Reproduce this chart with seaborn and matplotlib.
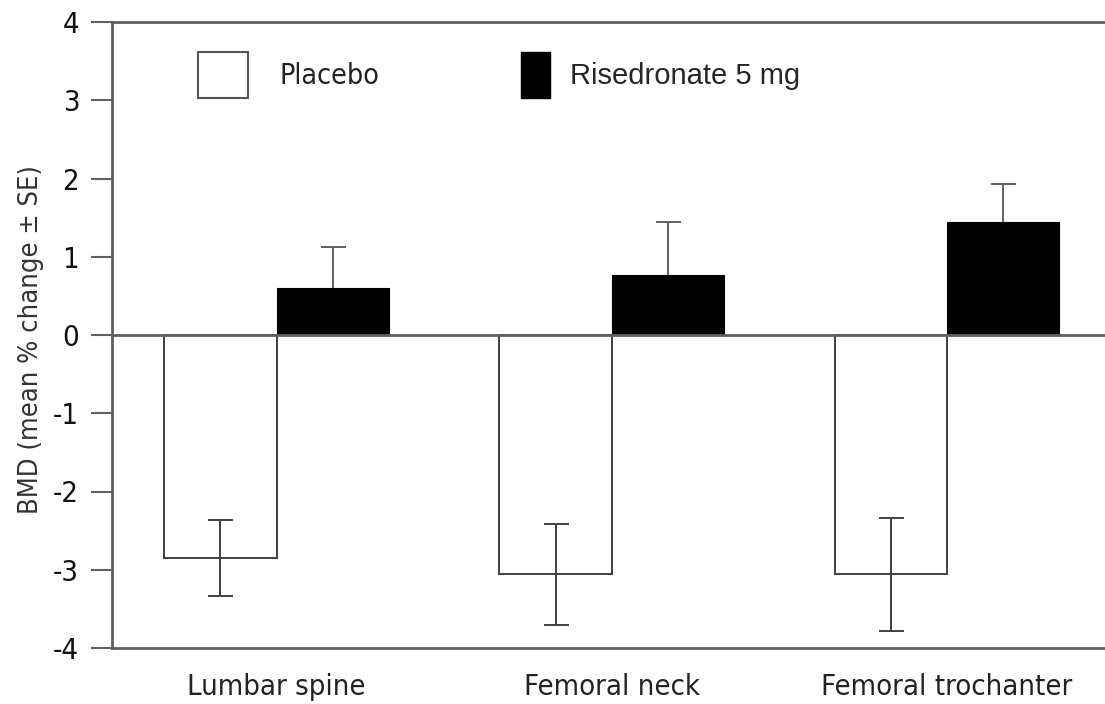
import matplotlib
matplotlib.use("Agg")
import matplotlib.pyplot as plt
from matplotlib import font_manager
import seaborn as sns
import pandas as pd
from matplotlib.patches import Patch

# values
sites = ["Lumbar spine", "Femoral neck", "Femoral trochanter"]
groups = ["Placebo", "Risedronate 5 mg"]
placebo_mean = [-2.85, -3.06, -3.06]
placebo_se = [0.48, 0.65, 0.72]
rise_mean = [0.60, 0.77, 1.45]
rise_se = [0.53, 0.68, 0.48]
yticks = [-4, -3, -2, -1, 0, 1, 2, 3, 4]

df = pd.DataFrame({
    "site": sites * 2,
    "group": [groups[0]] * 3 + [groups[1]] * 3,
    "bmd": placebo_mean + rise_mean,
})

# the figure uses a condensed sans; pick whatever narrow face is installed
fonts = font_manager.fontManager.ttflist
names = {f.name for f in fonts}
if "Liberation Sans Narrow" in names:
    narrow_family, narrow_stretch = "Liberation Sans Narrow", "normal"
elif any(f.name == "DejaVu Sans" and f.stretch == "condensed" for f in fonts):
    narrow_family, narrow_stretch = "DejaVu Sans", "condensed"
else:
    narrow_family, narrow_stretch = "Roboto", "normal"

sns.set_style("ticks")
plt.rcParams["font.family"] = [narrow_family, "DejaVu Sans"]
plt.rcParams["font.stretch"] = narrow_stretch
plt.rcParams["axes.unicode_minus"] = False

grey = "#606060"
edge = "#404040"

fig = plt.figure(figsize=(11.05, 7.04), dpi=100)
ax = fig.add_axes([112 / 1105, 56 / 704, 993 / 1105, 626 / 704])

sns.barplot(data=df, x="site", y="bmd", hue="group", order=sites, hue_order=groups,
            palette={groups[0]: "white", groups[1]: "black"}, width=0.67,
            errorbar=None, saturation=1, ax=ax, legend=False)

for bar in ax.containers[0]:
    bar.set_edgecolor(edge)
    bar.set_linewidth(1.4)
for bar in ax.containers[1]:
    bar.set_edgecolor("black")
    bar.set_linewidth(0.8)

# error bars at the bar centres taken from the drawn patches
px = [b.get_x() + b.get_width() / 2 for b in ax.containers[0]]
rx = [b.get_x() + b.get_width() / 2 for b in ax.containers[1]]
ax.errorbar(px, placebo_mean, yerr=placebo_se, fmt="none", ecolor=edge,
            elinewidth=1.4, capsize=9, capthick=1.4, zorder=3)
ax.errorbar(rx, rise_mean, yerr=rise_se, fmt="none", ecolor=grey,
            elinewidth=1.4, capsize=9, capthick=1.4, zorder=0.5)

ax.axhline(0, color=grey, lw=2, zorder=4)

ax.set_ylim(-4, 4)
ax.set_xlim(-0.4907, 2.4713)
ax.set_yticks(yticks)
ax.set_yticklabels([str(t) for t in yticks])

for s in ["left", "top", "bottom"]:
    ax.spines[s].set_color(grey)
    ax.spines[s].set_linewidth(2)
ax.spines["right"].set_visible(False)

ax.tick_params(axis="y", length=15, width=1.5, color=grey, pad=8.6,
               labelsize=21, labelcolor="#111111")
ax.tick_params(axis="x", length=0, pad=18, labelsize=21, labelcolor="#222222")

ax.set_xlabel("")
ax.set_ylabel("BMD (mean % change ± SE)", fontsize=19.5, color="#333333")
ax.yaxis.set_label_coords(-0.0685, 0.492)

# legend handle height follows matplotlib's fontsize*(0.65*hh + 0.245) rule
box_pt = 46 * 72 / 100
fs1 = 20.5 * 100 / 72
leg1 = ax.legend(handles=[Patch(facecolor="white", edgecolor="#555555", linewidth=1.5)],
                 labels=[groups[0]], frameon=False, loc="upper left",
                 bbox_to_anchor=(198 / 1105, 1 - 52 / 704), bbox_transform=fig.transFigure,
                 borderpad=0, borderaxespad=0, handlelength=50 / fs1,
                 handleheight=(box_pt / 20.5 - 0.245) / 0.65,
                 handletextpad=32 / fs1,
                 prop={"family": [narrow_family, "DejaVu Sans"], "stretch": narrow_stretch, "size": 20.5})
for t in leg1.get_texts():
    t.set_color("#222222")
ax.add_artist(leg1)

fs2 = 21 * 100 / 72
ax.legend(handles=[Patch(facecolor="black", edgecolor="black")],
          labels=[groups[1]], frameon=False, loc="upper left",
          bbox_to_anchor=(521 / 1105, 1 - 52 / 704), bbox_transform=fig.transFigure,
          borderpad=0, borderaxespad=0, handlelength=29 / fs2,
          handleheight=(box_pt / 21 - 0.245) / 0.65,
          handletextpad=20 / fs2,
          prop={"family": ["Liberation Sans", "DejaVu Sans"], "stretch": "normal", "size": 21})

fig.savefig("out.png", dpi=100)
